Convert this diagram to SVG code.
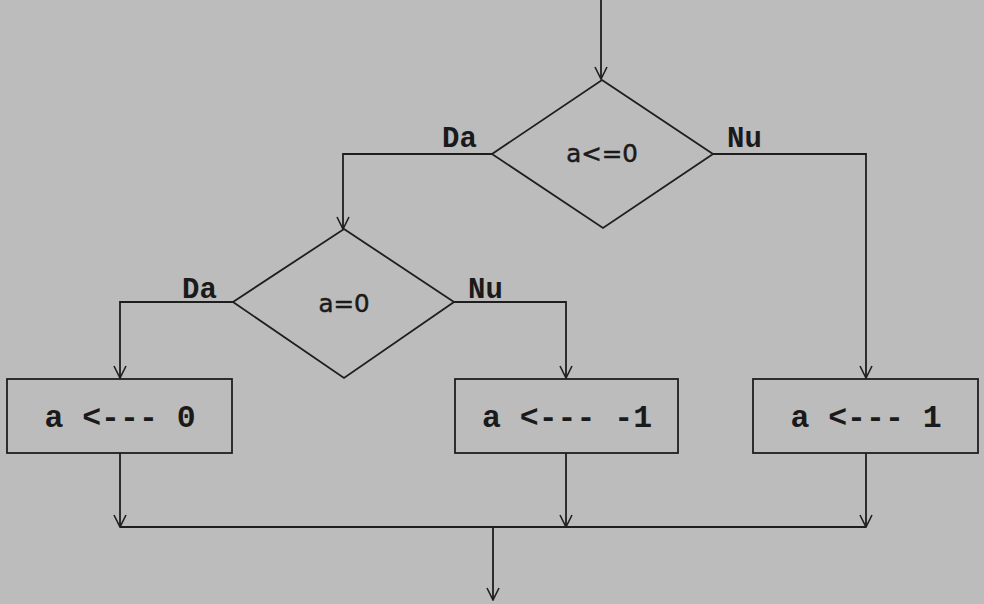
<svg xmlns="http://www.w3.org/2000/svg" width="984" height="604" viewBox="0 0 984 604">
<style>
.shape{fill:none;stroke:#1e1e1e;stroke-width:1.8}
.edge{fill:none;stroke:#1e1e1e;stroke-width:1.8}
.mono{font-family:"Liberation Mono","Courier New",monospace;font-weight:bold;fill:#1a1a1a}
.sans{font-family:"DejaVu Sans",sans-serif;font-size:24.5px;fill:#1a1a1a;stroke:#1a1a1a;stroke-width:0.5;text-anchor:middle}
.lbl{font-size:29px}
.box{font-size:31.5px;text-anchor:middle}
</style>
<defs>
<marker id="ah" viewBox="0 0 14 14" refX="13" refY="7" markerWidth="14" markerHeight="14" markerUnits="userSpaceOnUse" orient="auto">
<path d="M1 1 L13 7 L1 13" fill="none" stroke="#1e1e1e" stroke-width="1.6"/>
</marker>
</defs>
<rect width="984" height="604" fill="#bcbcbc"/>
<g id="connectors">
<path class="edge" d="M601 0 V79" marker-end="url(#ah)"/>
<path class="edge" d="M492 154 H343 V229" marker-end="url(#ah)"/>
<path class="edge" d="M713 154 H866 V378" marker-end="url(#ah)"/>
<path class="edge" d="M233 302 H120 V378" marker-end="url(#ah)"/>
<path class="edge" d="M454 302 H566 V378" marker-end="url(#ah)"/>
<path class="edge" d="M120 453 V527" marker-end="url(#ah)"/>
<path class="edge" d="M566 453 V527" marker-end="url(#ah)"/>
<path class="edge" d="M866 453 V527" marker-end="url(#ah)"/>
<path class="edge" d="M120 527 H866"/>
<path class="edge" d="M493 527 V600" marker-end="url(#ah)"/>
<text class="mono lbl" x="442" y="147">Da</text>
<text class="mono lbl" x="727" y="147">Nu</text>
<text class="mono lbl" x="182" y="298">Da</text>
<text class="mono lbl" x="468" y="298">Nu</text>
</g>
<g id="cond1">
<polygon class="shape" points="602,80 713,154 603,228 492,154"/>
<text class="sans" x="602" y="162">a&lt;=0</text>
</g>
<g id="cond2">
<polygon class="shape" points="344,229 454,302 344,378 233,302"/>
<text class="sans" x="344" y="312">a=0</text>
</g>
<g id="assign0">
<rect class="shape" x="7" y="379" width="225" height="74"/>
<text class="mono box" x="120" y="427" xml:space="preserve">a &lt;--- 0</text>
</g>
<g id="assignm1">
<rect class="shape" x="455" y="379" width="223" height="74"/>
<text class="mono box" x="567" y="427" xml:space="preserve">a &lt;--- -1</text>
</g>
<g id="assign1">
<rect class="shape" x="753" y="379" width="225" height="74"/>
<text class="mono box" x="866" y="427" xml:space="preserve">a &lt;--- 1</text>
</g>
</svg>
